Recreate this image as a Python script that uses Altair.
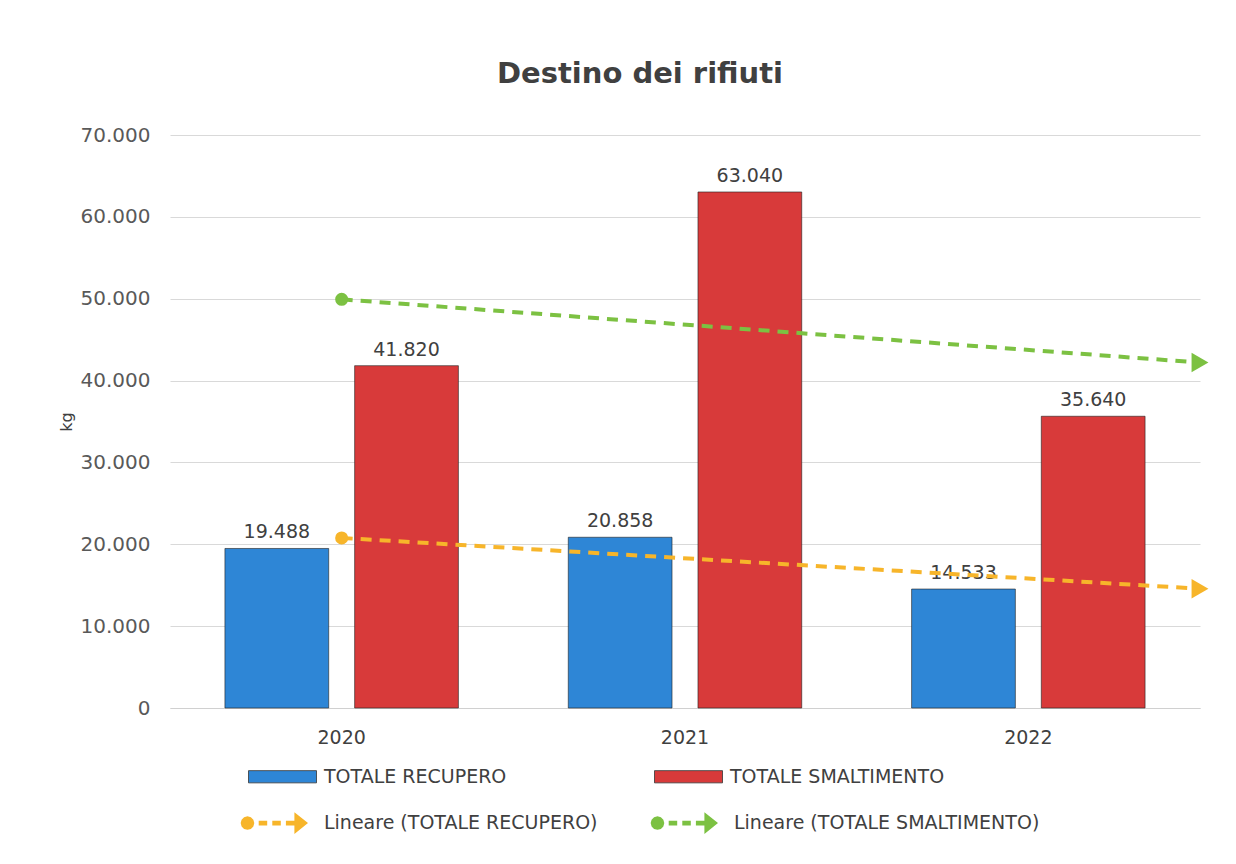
import altair as alt
import pandas as pd

years = [2020, 2021, 2022]
recupero = [19488, 20858, 14533]
smaltimento = [41820, 63040, 35640]
bar_series = ["TOTALE RECUPERO", "TOTALE SMALTIMENTO"]
trend_series = ["Lineare (TOTALE RECUPERO)", "Lineare (TOTALE SMALTIMENTO)"]
bar_colors = ["#2E86D6", "#D83A3A"]
trend_colors = ["#F7B52A", "#7CC142"]

rows = []
for i, y in enumerate(years):
    rows.append({"year": y, "series": bar_series[0], "value": recupero[i]})
    rows.append({"year": y, "series": bar_series[1], "value": smaltimento[i]})
df = pd.DataFrame(rows)

FONT = "DejaVu Sans"
TXT = "#404040"

base = alt.Chart(df)

x_band = alt.X("year:N", title=None,
               scale=alt.Scale(paddingInner=0.32, paddingOuter=0.16),
               axis=alt.Axis(labelAngle=0, labelFontSize=19, labelColor=TXT,
                             labelFont=FONT, ticks=False, labelPadding=20,
                             domainColor="#D0D0D0", domainWidth=1))
xoff = alt.XOffset("series:N", scale=alt.Scale(domain=bar_series, paddingInner=0.2))

bar_legend_path = "M-1,-0.18H1V0.18H-1Z"
trend_legend_path = ("M-0.58,0L-0.607,0.1L-0.68,0.173L-0.78,0.2L-0.88,0.173L-0.953,0.1L-0.98,0"
                     "L-0.953,-0.1L-0.88,-0.173L-0.78,-0.2L-0.68,-0.173L-0.607,-0.1Z"
                     "M-0.45,-0.07H-0.2V0.07H-0.45Z"
                     "M-0.05,-0.07H0.2V0.07H-0.05Z"
                     "M0.35,-0.07H0.6V-0.32L1,0L0.6,0.32V0.07H0.35Z")

bars = base.mark_bar(stroke="#222222", strokeWidth=1, strokeOpacity=0.6).encode(
    x=x_band,
    xOffset=xoff,
    y=alt.Y("value:Q", title="kg",
            scale=alt.Scale(domain=[0, 70000]),
            axis=alt.Axis(format=",.0f", values=[0, 10000, 20000, 30000, 40000, 50000, 60000, 70000],
                          labelFontSize=20, labelColor="#595959", labelFont=FONT,
                          ticks=False, domain=False, labelPadding=20,
                          gridColor="#D9D9D9", gridWidth=1,
                          titleFontSize=16, titleFont=FONT, titleFontWeight="normal",
                          titleColor=TXT, titlePadding=6)),
    fill=alt.Fill("series:N", scale=alt.Scale(domain=bar_series, range=bar_colors),
                  legend=alt.Legend(title=None, orient="none", direction="horizontal",
                                    columns=2, legendX=78, legendY=607,
                                    symbolType=bar_legend_path, symbolSize=4624,
                                    symbolStrokeColor="#333333", symbolStrokeWidth=0.8,
                                    labelFontSize=19, labelFont=FONT, labelColor=TXT,
                                    labelOffset=7, labelLimit=0, columnPadding=145)),
)

labels = base.mark_text(dy=-16, fontSize=19, font=FONT, color=TXT).encode(
    x=alt.X("year:N", scale=alt.Scale(paddingInner=0.32, paddingOuter=0.16)),
    xOffset=xoff,
    y=alt.Y("value:Q"),
    text=alt.Text("value:Q", format=",.0f"),
)

trend_base = base.transform_calculate(
    idx="datum.year - 2019"
).transform_regression(
    "idx", "value", groupby=["series"], extent=[1, 3.5]
).transform_calculate(
    trend="'Lineare (' + datum.series + ')'"
)

x_lin = alt.X("idx:Q", scale=alt.Scale(domain=[0.5, 3.5], nice=False, zero=False), axis=None)

trend_legend = alt.Legend(title=None, orient="none", direction="horizontal",
                          columns=2, legendX=70, legendY=654,
                          symbolType=trend_legend_path, symbolSize=4624,
                          symbolStrokeWidth=0, symbolOpacity=1,
                          labelFontSize=19, labelFont=FONT, labelColor=TXT,
                          labelOffset=16, labelLimit=0, columnPadding=52)

lines = trend_base.mark_line(strokeWidth=4, strokeDash=[11, 8]).encode(
    x=x_lin,
    y=alt.Y("value:Q"),
    stroke=alt.Stroke("trend:N", scale=alt.Scale(domain=trend_series, range=trend_colors),
                      legend=trend_legend),
)

circles = trend_base.transform_filter("datum.idx < 1.01").mark_point(
    shape="circle", filled=True, size=170, opacity=1).encode(
    x=x_lin,
    y=alt.Y("value:Q"),
    color=alt.Color("trend:N", scale=alt.Scale(domain=trend_series, range=trend_colors),
                    legend=trend_legend),
)

arrows = trend_base.transform_filter("datum.idx > 3.49").mark_point(
    shape="triangle-right", filled=True, size=380, opacity=1).encode(
    x=x_lin,
    y=alt.Y("value:Q"),
    color=alt.Color("trend:N", scale=alt.Scale(domain=trend_series, range=trend_colors),
                    legend=trend_legend),
)

chart = alt.layer(
    alt.layer(bars, labels),
    alt.layer(lines, circles, arrows),
).resolve_scale(x="independent").properties(
    width=1030,
    height=573,
    title=alt.TitleParams("Destino dei rifiuti", fontSize=29, font=FONT, fontWeight="bold",
                          color=TXT, anchor="middle", dx=-45, offset=36),
    padding={"left": 50, "top": 52, "right": 10, "bottom": 10},
).configure(
    locale={"number": {"decimal": ",", "thousands": ".", "grouping": [3], "currency": ["", " €"]}},
    background="white",
).configure_view(stroke=None)

chart.save("out.html", embed_options={"renderer": "svg", "actions": False})
